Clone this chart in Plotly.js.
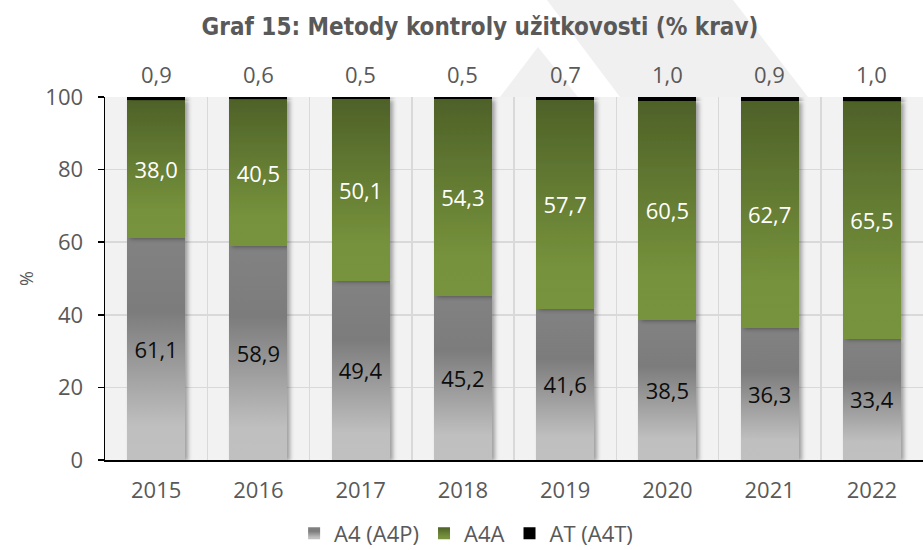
<!DOCTYPE html>
<html>
<head>
<meta charset="utf-8">
<script src="https://cdn.plot.ly/plotly-3.0.1.min.js"></script>
<style>html,body{margin:0;padding:0;background:#fff;}#chart{width:923px;height:550px;}</style>
</head>
<body>
<div id="chart"></div>
<script>
const years = ['2015','2016','2017','2018','2019','2020','2021','2022'];
const a4 = [61.1, 58.9, 49.4, 45.2, 41.6, 38.5, 36.3, 33.4];
const a4a = [38.0, 40.5, 50.1, 54.3, 57.7, 60.5, 62.7, 65.5];
const at = [0.9, 0.6, 0.5, 0.5, 0.7, 1.0, 0.9, 1.0];
const seriesNames = ['A4 (A4P)', 'A4A', 'AT (A4T)'];

const fmt = v => v.toFixed(1).replace('.', ',');
const FONT = '"Open Sans", "DejaVu Sans", sans-serif';
const GREY_TXT = '#595959';

const traces = [
  {type:'bar', name:seriesNames[0], x:years, y:a4, text:a4.map(fmt),
   textposition:'inside', insidetextanchor:'middle', textangle:0,
   textfont:{family:FONT, size:22, color:'#0d0d0d'},
   marker:{color:'#9a9a9a', line:{width:0}}, hoverinfo:'skip'},
  {type:'bar', name:seriesNames[1], x:years, y:a4a, text:a4a.map(fmt),
   textposition:'inside', insidetextanchor:'middle', textangle:0,
   textfont:{family:FONT, size:22, color:'#ffffff'},
   marker:{color:'#627a32', line:{width:0}}, hoverinfo:'skip'},
  {type:'bar', name:seriesNames[2], x:years, y:at, textposition:'none',
   marker:{color:'#000000', line:{width:0}}, hoverinfo:'skip'}
];

// stack totals (rounded to 0.1 so they stay inside the 0-100 axis range)
const totals = years.map((_, i) => Math.round((a4[i] + a4a[i] + at[i]) * 10) / 10);
// category axis: annotation x is the category's serial index
const annotations = years.map((yr, i) => ({
  x: i, y: totals[i], xref:'x', yref:'y', text: fmt(at[i]), showarrow:false,
  yanchor:'bottom', yshift:6, font:{family:FONT, size:22, color:GREY_TXT}
}));

// watermark (decorative background logo), pixel -> paper conversion
const L = 105, R = 923, T = 97, B = 460;
const px = v => ((v - L) / (R - L)).toFixed(4);
const py = v => ((B - v) / (B - T)).toFixed(4);
const wm = (pts) => 'M' + pts.map(p => px(p[0]) + ',' + py(p[1])).join(' L') + ' Z';
const shapes = [
  {type:'path', xref:'paper', yref:'paper', layer:'below', fillcolor:'#f0f0f0', line:{width:0},
   path: wm([[547,0],[733,0],[808,97],[620,97]])},
  {type:'path', xref:'paper', yref:'paper', layer:'below', fillcolor:'#f0f0f0', line:{width:0},
   path: wm([[538,47],[500,97],[578,97]])}
];

const layout = {
  width:923, height:550,
  margin:{l:L, r:0, t:T, b:550-B},
  paper_bgcolor:'#ffffff', plot_bgcolor:'#f2f2f2',
  barmode:'stack', bargap:0.435,
  showlegend:true,
  title:{text:'Graf 15: Metody kontroly užitkovosti (% krav)',
    font:{family:'"DejaVu Sans Condensed", "Liberation Sans Narrow", sans-serif', size:24, color:GREY_TXT, weight:'bold'},
    xref:'container', x:0.52, xanchor:'center', yref:'container', y:0.951, yanchor:'middle'},
  xaxis:{type:'category', tickson:'boundaries', ticks:'', showgrid:true, gridcolor:'#d9d9d9', gridwidth:1.5,
    showline:true, linecolor:'#000', linewidth:1.5, zeroline:false, ticklabelstandoff:10,
    tickfont:{family:FONT, size:22, color:GREY_TXT}, fixedrange:true},
  yaxis:{range:[0,100], dtick:20, ticks:'outside', ticklen:6, tickcolor:'#000', tickwidth:1.5,
    showline:true, linecolor:'#000', linewidth:1.5, showgrid:true, gridcolor:'#d9d9d9', gridwidth:1.5,
    zeroline:false, ticklabelstandoff:10, tickfont:{family:FONT, size:22, color:GREY_TXT},
    title:{text:'%', font:{family:FONT, size:18, color:GREY_TXT}, standoff:7}, fixedrange:true},
  legend:{orientation:'h', xref:'container', x:0.505, xanchor:'center', yref:'container', y:0.03, yanchor:'middle',
    font:{family:FONT, size:22, color:GREY_TXT}, itemwidth:30, traceorder:'normal'},
  annotations: annotations,
  shapes: shapes
};

Plotly.newPlot('chart', traces, layout, {displayModeBar:false, staticPlot:true}).then(gd => {
  // gradient fills and soft shadows like the original
  const svg = gd.querySelector('.main-svg');
  let defs = svg.querySelector('defs');
  const NS = 'http://www.w3.org/2000/svg';
  const mkGrad = (id, stops) => {
    const g = document.createElementNS(NS, 'linearGradient');
    g.setAttribute('id', id); g.setAttribute('x1','0'); g.setAttribute('y1','0'); g.setAttribute('x2','0'); g.setAttribute('y2','1');
    stops.forEach(s => { const st = document.createElementNS(NS,'stop'); st.setAttribute('offset', s[0]); st.setAttribute('stop-color', s[1]); g.appendChild(st); });
    defs.appendChild(g);
  };
  mkGrad('gGrey', [['0','#828282'],['0.33','#7c7c7c'],['0.85','#bfbfbf'],['1','#c0c0c0']]);
  mkGrad('gGreen', [['0','#4e6128'],['0.8','#76923c'],['1','#77933c']]);
  const f = document.createElementNS(NS, 'filter');
  f.setAttribute('id','bshadow'); f.setAttribute('x','-20%'); f.setAttribute('y','-5%'); f.setAttribute('width','150%'); f.setAttribute('height','115%');
  const ds = document.createElementNS(NS, 'feDropShadow');
  ds.setAttribute('dx','3'); ds.setAttribute('dy','1'); ds.setAttribute('stdDeviation','2.2');
  ds.setAttribute('flood-color','#000'); ds.setAttribute('flood-opacity','0.35');
  f.appendChild(ds); defs.appendChild(f);
  const tr = gd.querySelectorAll('.barlayer .trace');
  const fills = ['url(#gGrey)', 'url(#gGreen)', null];
  tr.forEach((t, i) => {
    t.querySelectorAll('.point path').forEach(p => {
      if (fills[i]) p.style.fill = fills[i];
      p.setAttribute('filter', 'url(#bshadow)');
    });
  });
  const lp = gd.querySelectorAll('.legend .traces .legendpoints path');
  lp.forEach((p, i) => { if (fills[i]) p.style.fill = fills[i]; });
});
</script>
</body>
</html>
